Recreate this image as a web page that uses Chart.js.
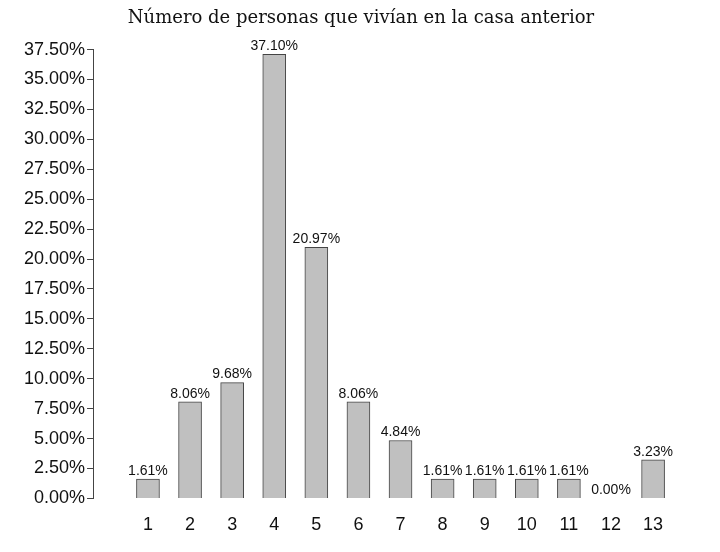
<!DOCTYPE html>
<html><head><meta charset="utf-8">
<script src="https://cdn.jsdelivr.net/npm/chart.js@4"></script>
<style>body{margin:0;background:#fff}#wrap{width:720px;height:552px}</style>
</head><body><div id="wrap"><canvas id="c"></canvas></div>
<script>
// Data
const categories = [1, 2, 3, 4, 5, 6, 7, 8, 9, 10, 11, 12, 13];
const percentages = [1.61, 8.06, 9.68, 37.10, 20.97, 8.06, 4.84, 1.61, 1.61, 1.61, 1.61, 0.00, 3.23];
const yTicks = [0, 2.5, 5, 7.5, 10, 12.5, 15, 17.5, 20, 22.5, 25, 27.5, 30, 32.5, 35, 37.5];

// Draws value labels above each bar
const barLabels = {
  id: "barLabels",
  afterDatasetsDraw(chart) {
    const ctx = chart.ctx;
    const meta = chart.getDatasetMeta(0);
    ctx.save();
    ctx.font = "14px 'Liberation Sans', Arial, sans-serif";
    ctx.fillStyle = "#111";
    ctx.textAlign = "center";
    ctx.textBaseline = "bottom";
    meta.data.forEach((bar, i) => {
      ctx.fillText(percentages[i].toFixed(2) + "%", bar.x, bar.y - 1);
    });
    ctx.restore();
  }
};

new Chart(document.getElementById("c"), {
  type: "bar",
  data: {
    datasets: [{
      data: categories.map((c, i) => ({ x: c, y: percentages[i] })),
      backgroundColor: "#c0c0c0",
      borderColor: "#444",
      borderWidth: 1,
      barThickness: 23
    }]
  },
  options: {
    responsive: true,
    maintainAspectRatio: false,
    animation: false,
    layout: { padding: { left: 22, right: 20, top: 4, bottom: 8 } },
    plugins: {
      legend: { display: false },
      tooltip: { enabled: false },
      title: {
        display: true,
        text: "Número de personas que vivían en la casa anterior",
        color: "#111",
        font: { family: "'DejaVu Serif', 'Liberation Serif', serif", size: 18, weight: "normal" },
        padding: { top: 4, bottom: 20 }
      }
    },
    scales: {
      x: {
        type: "linear",
        min: 0.25,
        max: 13.56,
        afterBuildTicks: (axis) => { axis.ticks = categories.map(v => ({ value: v })); },
        grid: { display: false },
        border: { display: false },
        ticks: { color: "#111", font: { family: "'Liberation Sans', Arial, sans-serif", size: 18 }, padding: 8 }
      },
      y: {
        min: 0,
        max: 37.5,
        afterBuildTicks: (axis) => { axis.ticks = yTicks.map(v => ({ value: v })); },
        grid: { display: true, drawOnChartArea: false, drawTicks: true, tickLength: 6, tickColor: "#444" },
        border: { display: true, color: "#444" },
        ticks: {
          color: "#111",
          padding: 2,
          font: { family: "'Liberation Sans', Arial, sans-serif", size: 18 },
          callback: (v) => v.toFixed(2) + "%"
        }
      }
    }
  },
  plugins: [barLabels]
});
</script></body></html>
